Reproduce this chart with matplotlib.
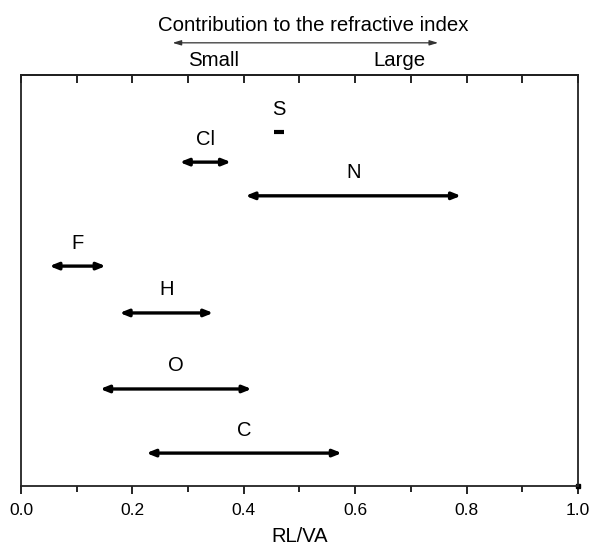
import matplotlib
matplotlib.use("Agg")
import matplotlib.pyplot as plt
from matplotlib.ticker import MultipleLocator

plt.rcParams['font.family'] = ['Liberation Sans', 'DejaVu Sans']

# Data
elements = ["S", "Cl", "N", "F", "H", "O", "C"]
rlva_low = [0.455, 0.285, 0.403, 0.051, 0.177, 0.142, 0.225]
rlva_high = [0.472, 0.377, 0.790, 0.152, 0.345, 0.414, 0.576]
row_pos = [0.861, 0.788, 0.706, 0.535, 0.421, 0.236, 0.080]
corner_x = [1.0]
corner_y = [0.0]

fig = plt.figure(figsize=(5.94, 5.49), dpi=100)
ax = fig.add_axes([0.0354, 0.1148, 0.9376, 0.7486])
ax.set_xlim(0, 1.0)
ax.set_ylim(0, 1.0)

for name, lo, hi, y in zip(elements, rlva_low, rlva_high, row_pos):
    if hi - lo < 0.03:
        ax.plot([lo, hi], [y, y], color='black', lw=3, solid_capstyle='butt')
    else:
        ax.annotate('', xy=(hi, y), xytext=(lo, y),
                    arrowprops=dict(arrowstyle='<|-|>,head_length=0.5,head_width=0.2',
                                    color='black', lw=2.4, shrinkA=0, shrinkB=0))
    ax.text((lo + hi) / 2, y + 0.033, name, ha='center', va='bottom', fontsize=14.5)

ax.plot(corner_x, corner_y, 's', color='black', ms=3, clip_on=False)

for s in ax.spines.values():
    s.set_linewidth(1.3)
    s.set_color('#222222')

ax.xaxis.set_major_locator(MultipleLocator(0.2))
ax.xaxis.set_minor_locator(MultipleLocator(0.1))
ax.xaxis.set_major_formatter(matplotlib.ticker.FormatStrFormatter('%.1f'))
ax.tick_params(axis='x', which='major', direction='out', length=6, width=1.2, labelsize=12.5, pad=6)
ax.tick_params(axis='x', which='minor', direction='out', length=4, width=1.2)
ax.tick_params(axis='y', left=False, labelleft=False)
ax.set_yticks([])

# top ticks inward, no labels
secax = ax.secondary_xaxis('top')
secax.xaxis.set_major_locator(MultipleLocator(0.1))
secax.tick_params(axis='x', direction='in', length=6, width=1.2, labeltop=False)
secax.spines['top'].set_linewidth(1.3)

ax.set_xlabel('RL/VA', fontsize=14.5, labelpad=7)

# top annotation
fig.text(0.527, 0.954, 'Contribution to the refractive index', ha='center', va='center', fontsize=14.7)
ax.annotate('', xy=(0.272, 0.922), xytext=(0.749, 0.922),
            xycoords=('data', 'figure fraction'), textcoords=('data', 'figure fraction'),
            arrowprops=dict(arrowstyle='<|-|>,head_length=0.5,head_width=0.15',
                            color='#333333', lw=0.9, shrinkA=0, shrinkB=0),
            annotation_clip=False)
fig.text(0.359, 0.889, 'Small', ha='center', va='center', fontsize=14.7)
fig.text(0.673, 0.889, 'Large', ha='center', va='center', fontsize=14.7)

fig.savefig('out.png', dpi=100)
